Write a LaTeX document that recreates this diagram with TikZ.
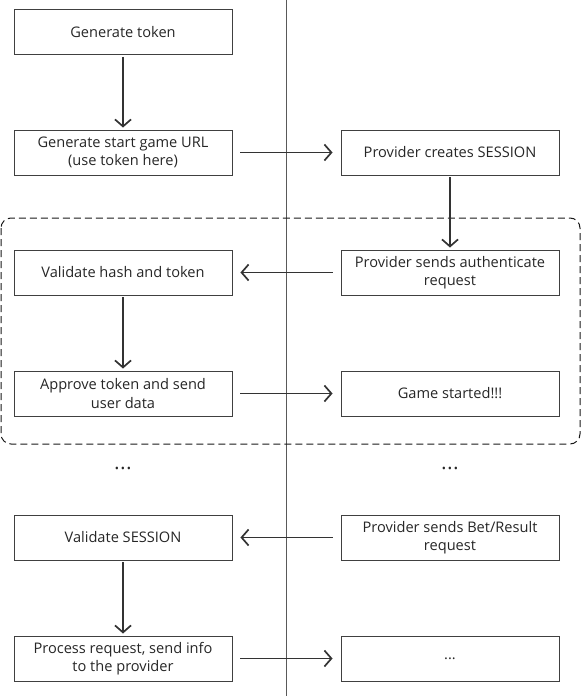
\documentclass[tikz,border=0pt]{standalone}
\usepackage{fontspec}
\setmainfont{Open Sans}
\usetikzlibrary{arrows.meta}
\begin{document}
\begin{tikzpicture}[x=1pt,y=-1pt,
  box/.style={draw=black!75, line width=0.9pt, minimum width=218pt, minimum height=45pt, inner sep=0pt, align=center, text=black!85, font=\fontsize{14.6}{18.5}\selectfont},
  flow/.style={draw=black!80, line width=1.7pt, -{Straight Barb[length=7pt,width=16pt]}},
  dots/.style={text=black!85, font=\fontsize{11}{12}\selectfont}]
  \useasboundingbox (0,0) rectangle (581,696);
  \draw[black!65, line width=0.9pt] (286.5,0) -- (286.5,696);
  \draw[black!90, line width=1pt, dash pattern=on 7pt off 4pt, rounded corners=10pt] (1,218) rectangle (580,444);
  \node[box] (gen) at (123,32) {Generate token};
  \node[box] (url) at (123,152.5) {Generate start game URL\\(use token here)};
  \node[box] (session) at (450,152.5) {Provider creates SESSION};
  \node[box] (auth) at (450,272.5) {Provider sends authenticate\\request};
  \node[box] (hash) at (123,272.5) {Validate hash and token};
  \node[box] (approve) at (123,393.5) {Approve token and send\\user data};
  \node[box] (started) at (450,393.5) {Game started!!!};
  \node[dots] (ldots) at (123,470) {•\,•\,•};
  \node[dots] (rdots) at (450,470) {•\,•\,•};
  \node[box] (check) at (123,537.5) {Validate SESSION};
  \node[box] (bet) at (450,537.5) {Provider sends Bet/Result\\request};
  \node[box] (process) at (123,658.5) {Process request, send info\\to the provider};
  \node[box] (more) at (450,658.5) {...};
  \draw[flow, shorten <=2pt, shorten >=2pt] (gen) -- (url);
  \draw[flow, shorten <=8pt, shorten >=8pt] (url) -- (session);
  \draw[flow, shorten <=2pt, shorten >=2pt] (session) -- (auth);
  \draw[flow, shorten <=8pt, shorten >=8pt] (auth) -- (hash);
  \draw[flow, shorten <=2pt, shorten >=2pt] (hash) -- (approve);
  \draw[flow, shorten <=8pt, shorten >=8pt] (approve) -- (started);
  \draw[flow, shorten <=8pt, shorten >=8pt] (bet) -- (check);
  \draw[flow, shorten <=2pt, shorten >=2pt] (check) -- (process);
  \draw[flow, shorten <=8pt, shorten >=8pt] (process) -- (more);
\end{tikzpicture}
\end{document}
